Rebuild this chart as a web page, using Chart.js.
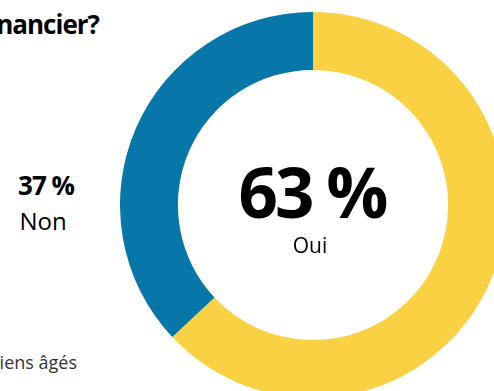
<!DOCTYPE html>
<html><head><meta charset="utf-8">
<script src="https://cdn.jsdelivr.net/npm/chart.js@4"></script>
<style>
html,body{margin:0;padding:0;width:494px;height:391px;overflow:hidden;background:#fff;position:relative;font-family:"Open Sans",sans-serif;color:#000;}
#wrap{position:absolute;left:120px;top:12px;width:386px;height:386px;}
.t{position:absolute;white-space:nowrap;}
</style></head><body>
<div class="t" id="title" style="right:395px;top:4px;font-weight:700;font-size:26px;line-height:40px;letter-spacing:-1px;">financier?</div>
<div id="wrap"><canvas id="c" width="386" height="386"></canvas></div>
<div class="t" style="left:0;width:92px;text-align:center;top:168px;font-weight:700;font-size:26px;line-height:34px;letter-spacing:-1px;" id="nonPct"></div>
<div class="t" style="left:0;width:86px;text-align:center;top:203px;font-size:24px;line-height:36px;" id="nonLab"></div>
<div class="t" style="left:212px;width:200px;text-align:center;top:146px;font-weight:700;font-size:69px;line-height:90px;letter-spacing:-3px;" id="ouiPct"></div>
<div class="t" style="left:210px;width:200px;text-align:center;top:230px;font-size:21px;line-height:30px;" id="ouiLab"></div>
<div class="t" style="right:417px;top:348px;font-size:18px;line-height:28px;color:#333;">Canadiens âgés</div>
<script>
const categories = ["Oui", "Non"];
const values = [63, 37];
const colors = ["#F9D143", "#0677A8"];

document.getElementById('ouiPct').textContent = values[0] + "\u00a0%";
document.getElementById('ouiLab').textContent = categories[0];
document.getElementById('nonPct').textContent = values[1] + "\u00a0%";
document.getElementById('nonLab').textContent = categories[1];

new Chart(document.getElementById('c'), {
  type: 'doughnut',
  data: { labels: categories, datasets: [{ data: values, backgroundColor: colors, borderWidth: 0 }] },
  options: {
    responsive: false, animation: false, cutout: '70%',
    layout: { padding: 0 },
    plugins: { legend: { display: false }, tooltip: { enabled: false } }
  }
});
</script>
</body></html>
